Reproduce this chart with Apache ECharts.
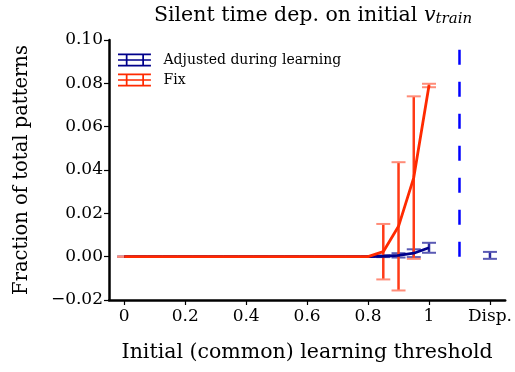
<!DOCTYPE html>
<html>
<head>
<meta charset="utf-8">
<script src="https://cdn.jsdelivr.net/npm/echarts@6/dist/echarts.min.js"></script>
<style>
  html, body { margin: 0; padding: 0; background: #fff; }
  #chart { width: 515px; height: 372px; }
</style>
</head>
<body>
<div id="chart"></div>
<script>
// Thresholds swept in the simulation
const thresholds = [0, 0.05, 0.1, 0.15, 0.2, 0.25, 0.3, 0.35, 0.4, 0.45, 0.5,
                    0.55, 0.6, 0.65, 0.7, 0.75, 0.8, 0.85, 0.9, 0.95, 1.0];

// Threshold adjusted during learning: mean and standard deviation
const adjustedMean = [0, 0, 0, 0, 0, 0, 0, 0, 0, 0, 0,
                      0, 0, 0, 0, 0, 0, 0.0002, 0.0006, 0.0016, 0.0041];
const adjustedStd  = [0, 0, 0, 0, 0, 0, 0, 0, 0, 0, 0,
                      0, 0, 0, 0, 0, 0, 0.0004, 0.0010, 0.0018, 0.0023];

// Fixed threshold: mean and standard deviation
const fixMean = [0, 0, 0, 0, 0, 0, 0, 0, 0, 0, 0,
                 0, 0, 0, 0, 0, 0, 0.0023, 0.0140, 0.0365, 0.0790];
const fixStd  = [0, 0, 0, 0, 0, 0, 0, 0, 0, 0, 0,
                 0, 0, 0, 0, 0, 0, 0.0128, 0.0296, 0.0375, 0.0008];

// Dispersed-threshold reference point
const dispX = 1.2;
const dispMean = 0.0006;
const dispStd = 0.0016;

// Separator between swept thresholds and the dispersed case
const separatorX = 1.1;
const separatorTop = 0.096;

const xTickValues = [0, 0.2, 0.4, 0.6, 0.8, 1.0, 1.2];
const xTickLabels = ['0', '0.2', '0.4', '0.6', '0.8', '1', 'Disp.'];

const FONT = 'DejaVu Serif';
const NAVY = '#00008b';
const NAVY_BAR = '#2a2aa0';
const NAVY_CAP = '#5a5ab4';
const RED = '#ff2a00';
const RED_BAR = '#ff3a16';
const RED_CAP = '#ff8c78';

const adjustedBars = thresholds.map((x, i) => [x, adjustedMean[i] - adjustedStd[i], adjustedMean[i] + adjustedStd[i]]);
adjustedBars.push([dispX, dispMean - dispStd, dispMean + dispStd]);
const fixBars = thresholds.map((x, i) => [x, fixMean[i] - fixStd[i], fixMean[i] + fixStd[i]]);

function errorBarRenderer(barColor, capColor) {
  return function (params, api) {
    const x = api.value(0);
    const lo = api.coord([x, api.value(1)]);
    const hi = api.coord([x, api.value(2)]);
    const half = 7;
    return {
      type: 'group',
      children: [
        { type: 'line', shape: { x1: lo[0], y1: lo[1], x2: hi[0], y2: hi[1] },
          style: { stroke: barColor, lineWidth: 2.5 } },
        { type: 'line', shape: { x1: lo[0] - half, y1: lo[1], x2: lo[0] + half, y2: lo[1] },
          style: { stroke: capColor, lineWidth: 2 } },
        { type: 'line', shape: { x1: hi[0] - half, y1: hi[1], x2: hi[0] + half, y2: hi[1] },
          style: { stroke: capColor, lineWidth: 2 } }
      ]
    };
  };
}

// Legend glyph: horizontal line with two capped vertical error bars
const errIcon = 'path://M0,0h19v2h-19z M19,0h19v2h-19z M0,13h38v2h-38z M9,0h2v15h-2z M28,0h2v15h-2z M0,6.5h38v2h-38z';

const chart = echarts.init(document.getElementById('chart'), null, { renderer: 'canvas' });

chart.setOption({
  animation: false,
  backgroundColor: '#fff',
  title: {
    text: 'Silent time dep. on initial {v|v}{sub|train}',
    left: 308,
    textAlign: 'center',
    top: -1,
    textStyle: {
      fontFamily: FONT, fontSize: 20.5, fontWeight: 'normal', color: '#000',
      rich: {
        v: { fontFamily: FONT, fontSize: 20.5, fontStyle: 'italic', color: '#000' },
        sub: { fontFamily: FONT, fontSize: 15, fontStyle: 'italic', color: '#000', padding: [8, 0, 0, 0] }
      }
    }
  },
  legend: {
    left: 113,
    top: 48,
    orient: 'vertical',
    itemWidth: 38,
    itemHeight: 13,
    itemGap: 6,
    data: [
      { name: 'Adjusted during learning', icon: errIcon, itemStyle: { color: NAVY } },
      { name: 'Fix', icon: errIcon, itemStyle: { color: RED } }
    ],
    textStyle: { fontFamily: FONT, fontSize: 14, color: '#000', padding: [0, 0, 0, 5] }
  },
  grid: { left: 109, top: 40, width: 398, height: 260, containLabel: false },
  xAxis: {
    type: 'value',
    min: -0.05,
    max: 1.25,
    name: 'Initial (common) learning threshold',
    nameLocation: 'middle',
    nameGap: 42,
    nameTextStyle: { fontFamily: FONT, fontSize: 20.5, color: '#000' },
    axisLine: { show: true, onZero: false, lineStyle: { color: '#000', width: 2.5 } },
    axisTick: { show: true, customValues: xTickValues, length: 5, lineStyle: { color: '#000', width: 1.2 } },
    axisLabel: {
      customValues: xTickValues,
      margin: 8,
      fontFamily: FONT, fontSize: 17, color: '#000',
      formatter: function (v) {
        const i = xTickValues.findIndex(t => Math.abs(t - v) < 1e-9);
        return i >= 0 ? xTickLabels[i] : '';
      }
    },
    splitLine: { show: false }
  },
  yAxis: {
    type: 'value',
    min: -0.02,
    max: 0.10,
    interval: 0.02,
    name: 'Fraction of total patterns',
    nameLocation: 'middle',
    nameGap: 77,
    nameTextStyle: { fontFamily: FONT, fontSize: 19.5, color: '#000' },
    axisLine: { show: true, onZero: false, lineStyle: { color: '#000', width: 2.5 } },
    axisTick: { show: true, length: 5, lineStyle: { color: '#000', width: 1.2 } },
    axisLabel: {
      margin: 6,
      fontFamily: FONT, fontSize: 17, color: '#000',
      formatter: function (v) { return v.toFixed(2).replace('-', '\u2212'); }
    },
    splitLine: { show: false }
  },
  series: [
    {
      name: 'Adjusted bars', type: 'custom', z: 1,
      renderItem: errorBarRenderer(NAVY_BAR, NAVY_CAP),
      encode: { x: 0, y: [1, 2] },
      data: adjustedBars
    },
    {
      name: 'Fix bars', type: 'custom', z: 2,
      renderItem: errorBarRenderer(RED_BAR, RED_CAP),
      encode: { x: 0, y: [1, 2] },
      data: fixBars
    },
    {
      name: 'Adjusted during learning', type: 'line', z: 3,
      data: thresholds.map((x, i) => [x, adjustedMean[i]]),
      showSymbol: false, symbol: 'none',
      lineStyle: { color: NAVY, width: 2.8 }, itemStyle: { color: NAVY }
    },
    {
      name: 'Fix', type: 'line', z: 4,
      data: thresholds.map((x, i) => [x, fixMean[i]]),
      showSymbol: false, symbol: 'none',
      lineStyle: { color: RED, width: 2.8 }, itemStyle: { color: RED }
    },
    {
      name: 'Separator', type: 'line', z: 5,
      data: [[separatorX, 0], [separatorX, separatorTop]],
      showSymbol: false, symbol: 'none',
      lineStyle: { color: '#0000ff', width: 2.5, type: [15, 17] }
    }
  ]
});
</script>
</body>
</html>
